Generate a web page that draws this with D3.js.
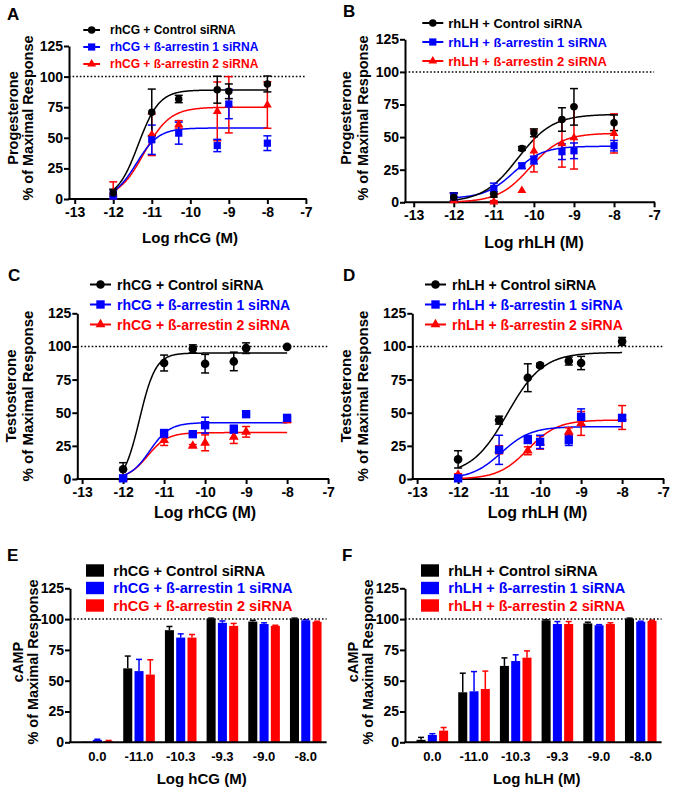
<!DOCTYPE html>
<html><head><meta charset="utf-8">
<script src="https://cdn.jsdelivr.net/npm/d3@7"></script>
<style>
body{margin:0;background:#fff}
svg text{font-family:"Liberation Sans",Arial,sans-serif;font-weight:bold}
</style>
</head><body>
<svg id="c" width="675" height="790"></svg>
<script>
// ---------- DATA ----------
const doseTicks = [-13, -12, -11, -10, -9, -8, -7];
const yTicks = [0, 25, 50, 75, 100, 125];
const colors = ["#000000", "#0000ff", "#ff0000"];
const hcgNames = ["rhCG + Control siRNA", "rhCG + ß-arrestin 1 siRNA", "rhCG + ß-arrestin 2 siRNA"];
const lhNames = ["rhLH + Control siRNA", "rhLH + ß-arrestin 1 siRNA", "rhLH + ß-arrestin 2 siRNA"];

// Panel A: progesterone, rhCG
const dosesA = [-12, -11, -10.3, -9.3, -9, -8];
const progCgCtrl = [5, 70.8, 81.7, 89.3, 88, 94];
const progCgCtrlErr = [3, 19, 3, 11, 6, 6.5];
const progCgArr1 = [3.3, 48.4, 53.8, 43.7, 77.6, 45.6];
const progCgArr1Err = [4, 12, 9, 5, 12, 6];
const progCgArr2 = [5, 52.5, 61, 71.6, 77, 76.8];
const progCgArr2Err = [9, 17, 3, 24, 23, 19];
// fit params: bottom, top, logEC50, hill
const progCgFit = [[0, 89, -11.35, 1.6], [0, 58, -11.4, 1.5], [0, 75, -11.2, 1.3]];

// Panel B: progesterone, rhLH
const dosesB = [-12, -11, -10.3, -10, -9.3, -9, -8];
const progLhCtrl = [3.8, 6, 41.3, 53.3, 63.5, 73.2, 61];
const progLhCtrlErr = [3, 2, 1.5, 3, 9, 14, 6];
const progLhArr1 = [4.3, 10.7, 28, 32.4, 38.8, 39.5, 43.4];
const progLhArr1Err = [3, 4, 2, 3, 6, 6, 4];
const progLhArr2 = [1.3, 0.3, 9, 39.3, 45, 49.5, 52.8];
const progLhArr2Err = [6, 1, 0, 16, 18, 24, 15];
const progLhFit = [[0, 67.5, -10.4, 1], [3, 43, -10.5, 1.2], [0, 53, -10.1, 1.1]];

// Panel C: testosterone, rhCG
const dosesC = [-12, -11, -10.3, -10, -9.3, -9, -8];
const testCgCtrl = [7.3, 87.5, 98.2, 87, 88.7, 98.7, 99.7];
const testCgCtrlErr = [5, 6, 3, 7, 7, 4, 1];
const testCgArr1 = [0.5, 34.3, 33.8, 40.6, 37.6, 48.9, 46.1];
const testCgArr1Err = [1, 3, 1, 6, 3, 1, 1];
const testCgArr2 = [0.5, 29.3, 25, 27.3, 31.8, 35.6, 44.5];
const testCgArr2Err = [1, 4, 1, 6, 5, 4, 2];
const testCgFit = [[-5, 95, -11.6, 2.2], [0, 42.5, -11.35, 1.8], [0, 35, -11.4, 1.8]];

// Panel D: testosterone, rhLH
const dosesD = [-12, -11, -10.3, -10, -9.3, -9, -8];
const testLhCtrl = [14.8, 44.4, 76.4, 85.7, 89, 87.5, 103.8];
const testLhCtrlErr = [6.5, 3, 10.5, 1.5, 3, 5, 3];
const testLhArr1 = [0.5, 22, 29.8, 28, 29.3, 46.9, 46.1];
const testLhArr1Err = [1, 11, 3, 5, 4, 6, 2];
const testLhArr2 = [3, 22, 21.3, 27.5, 35.6, 41.9, 46.4];
const testLhArr2Err = [1, 3, 3, 5, 3, 9, 9];
const testLhFit = [[3, 95.5, -10.8, 1], [0, 39.5, -10.95, 1.2], [0, 44.5, -10.3, 1.2]];

// Panels E/F: cAMP bars
const campCats = ["0.0", "-11.0", "-10.3", "-9.3", "-9.0", "-8.0"];
const campCgCtrl = [0.5, 60, 91, 100.3, 98, 100.3];
const campCgCtrlErr = [0, 10, 3, 0.5, 1, 0.5];
const campCgArr1 = [2, 57.8, 85, 97, 96, 99];
const campCgArr1Err = [0.5, 9.5, 3, 1.5, 1, 0.5];
const campCgArr2 = [1, 55, 85, 94.5, 94.5, 97.8];
const campCgArr2Err = [0.5, 12, 2.5, 2, 0.5, 0.5];
const campLhCtrl = [2, 40.6, 62, 99, 96.5, 100.3];
const campLhCtrlErr = [2, 15.5, 6.5, 0.5, 1, 0.5];
const campLhArr1 = [6, 41.4, 66, 96, 95, 97.8];
const campLhArr1Err = [1, 16, 5, 2, 0.5, 0.5];
const campLhArr2 = [9.5, 43.3, 68.7, 96, 96, 98.6];
const campLhArr2Err = [2.5, 14.5, 5.5, 2, 1, 0.5];

// ---------- DRAWING ----------
const FONT = '"Liberation Sans", Arial, sans-serif';
const svg = d3.select("#c");
svg.append("rect").attr("width", 675).attr("height", 790).attr("fill", "#fff");
const symbols = [d3.symbolCircle, d3.symbolSquare, d3.symbolTriangle];

function styleAxis(ga, fs) {
  ga.attr("font-family", FONT).attr("font-size", fs).attr("font-weight", "bold");
  ga.selectAll(".tick line").attr("stroke", "#000").attr("stroke-width", 2);
  ga.selectAll(".tick text").attr("fill", "#000");
}

function drawYAxis(g, y, ax) {
  const a = d3.axisLeft(y).tickValues(yTicks).tickSize(5).tickPadding(1).tickSizeOuter(0).tickFormat(d => String(d));
  const ga = g.append("g").attr("transform", `translate(${ax},0)`).call(a);
  ga.select(".domain").attr("stroke", "#000").attr("stroke-width", 2);
  styleAxis(ga, 14);
}

function titles(g, p) {
  g.append("text").attr("x", p.label[0]).attr("y", p.label[1]).attr("font-size", 17).text(p.labelText);
  g.append("text").attr("x", p.xTitle[0]).attr("y", p.xTitle[1]).attr("text-anchor", "middle")
    .attr("font-size", p.xTitleSize).text(p.xTitleText);
  p.yTitleText.forEach((t, i) => {
    g.append("text").attr("transform", `translate(${p.yTitleX[i]},${p.yTitleY}) rotate(-90)`)
      .attr("text-anchor", "middle").attr("dominant-baseline", "central")
      .attr("font-size", p.yTitleSize).text(t);
  });
}

function curvePanel(p) {
  const g = svg.append("g");
  const x = d3.scaleLinear().domain([-13, -7]).range(p.xr);
  const y = d3.scaleLinear().domain([0, 125]).range(p.yr);
  // dotted 100 % line
  g.append("line").attr("x1", p.ax).attr("x2", x(-7)).attr("y1", y(100)).attr("y2", y(100))
    .attr("stroke", "#000").attr("stroke-width", 1.5).attr("stroke-dasharray", "1.6,2");
  // x axis
  const xa = d3.axisBottom(x).tickValues(doseTicks).tickSize(5).tickPadding(3).tickSizeOuter(0).tickFormat(d => String(d));
  const gx = g.append("g").attr("transform", `translate(0,${y(0)})`).call(xa);
  gx.select(".domain").remove();
  styleAxis(gx, 14);
  g.append("line").attr("x1", p.ax - 1).attr("x2", x(-7) + 1).attr("y1", y(0)).attr("y2", y(0))
    .attr("stroke", "#000").attr("stroke-width", 2);
  drawYAxis(g, y, p.ax);

  const line = d3.line().x(d => x(d[0])).y(d => y(d[1]));
  const order = [2, 1, 0];
  // curves
  order.forEach(si => {
    const f = p.fits[si];
    const pts = d3.range(-12, -7.999, 0.02).map(v => [v, f[0] + (f[1] - f[0]) / (1 + Math.pow(10, (f[2] - v) * f[3]))]);
    g.append("path").attr("d", line(pts)).attr("fill", "none").attr("stroke", colors[si]).attr("stroke-width", 1.5);
  });
  // error bars + markers
  order.forEach(si => {
    const s = p.series[si];
    p.doses.forEach((d, i) => {
      const v = s.vals[i], e = s.errs[i];
      if (e > 0) {
        const lo = Math.max(0, v - e), hi = v + e;
        const cx = x(d), hw = 4;
        g.append("line").attr("x1", cx).attr("x2", cx).attr("y1", y(lo)).attr("y2", y(hi))
          .attr("stroke", colors[si]).attr("stroke-width", 1.5);
        [lo, hi].forEach(vv => g.append("line").attr("x1", cx - hw).attr("x2", cx + hw).attr("y1", y(vv)).attr("y2", y(vv))
          .attr("stroke", colors[si]).attr("stroke-width", 1.5));
      }
    });
  });
  order.forEach(si => {
    const s = p.series[si];
    p.doses.forEach((d, i) => {
      g.append("path").attr("d", d3.symbol().type(symbols[si]).size(p.msize[si])())
        .attr("transform", `translate(${x(d)},${y(s.vals[i])})`).attr("fill", colors[si]);
    });
  });
  // legend
  p.names.forEach((n, i) => {
    const ly = p.legRows[i];
    g.append("line").attr("x1", p.legLine[0]).attr("x2", p.legLine[1]).attr("y1", ly).attr("y2", ly)
      .attr("stroke", colors[i]).attr("stroke-width", 2);
    g.append("path").attr("d", d3.symbol().type(symbols[i]).size(p.msize[i])())
      .attr("transform", `translate(${(p.legLine[0] + p.legLine[1]) / 2},${ly})`).attr("fill", colors[i]);
    g.append("text").attr("x", p.legText).attr("y", ly).attr("dominant-baseline", "central")
      .attr("font-size", p.legSize).attr("fill", colors[i]).text(n);
  });
  titles(g, p);
}

function barPanel(p) {
  const g = svg.append("g");
  const x0 = d3.scaleBand().domain(p.cats).range(p.xr).paddingInner(0.242).paddingOuter(0.121);
  const x1 = d3.scaleBand().domain([0, 1, 2]).range([0, x0.bandwidth()]).paddingInner(0.2);
  const y = d3.scaleLinear().domain([0, 125]).range(p.yr);
  // bars
  p.series.forEach((s, si) => {
    p.cats.forEach((c, i) => {
      const bx = x0(c) + x1(si), bw = x1.bandwidth();
      g.append("rect").attr("x", bx).attr("width", bw).attr("y", y(s.vals[i])).attr("height", y(0) - y(s.vals[i]))
        .attr("fill", colors[si]);
      const e = s.errs[i];
      if (e > 0) {
        const cx = bx + bw / 2;
        g.append("line").attr("x1", cx).attr("x2", cx).attr("y1", y(s.vals[i])).attr("y2", y(s.vals[i] + e))
          .attr("stroke", colors[si]).attr("stroke-width", 1.5);
        g.append("line").attr("x1", cx - 3).attr("x2", cx + 3).attr("y1", y(s.vals[i] + e)).attr("y2", y(s.vals[i] + e))
          .attr("stroke", colors[si]).attr("stroke-width", 1.5);
      }
    });
  });
  g.append("line").attr("x1", p.ax).attr("x2", p.xr[1]).attr("y1", y(100)).attr("y2", y(100))
    .attr("stroke", "#000").attr("stroke-width", 1.5).attr("stroke-dasharray", "1.6,2");
  // x axis
  const xa = d3.axisBottom(x0).tickSize(0).tickPadding(9);
  const gx = g.append("g").attr("transform", `translate(0,${y(0)})`).call(xa);
  gx.select(".domain").remove();
  styleAxis(gx, 13);
  g.append("line").attr("x1", p.ax - 1).attr("x2", p.xr[1]).attr("y1", y(0)).attr("y2", y(0))
    .attr("stroke", "#000").attr("stroke-width", 2);
  drawYAxis(g, y, p.ax);
  // legend
  p.names.forEach((n, i) => {
    const ly = p.legRows[i];
    g.append("rect").attr("x", p.legSw[0]).attr("width", p.legSw[1] - p.legSw[0]).attr("y", ly - 6.2).attr("height", 12.4)
      .attr("fill", colors[i]);
    g.append("text").attr("x", p.legText).attr("y", ly).attr("dominant-baseline", "central")
      .attr("font-size", p.legSize).attr("fill", colors[i]).text(n);
  });
  titles(g, p);
}

const msSmall = [44, 52, 34];
const msBig = [58, 70, 42];

curvePanel({
  doses: dosesA, fits: progCgFit, names: hcgNames,
  series: [{vals: progCgCtrl, errs: progCgCtrlErr}, {vals: progCgArr1, errs: progCgArr1Err}, {vals: progCgArr2, errs: progCgArr2Err}],
  ax: 69, xr: [74.7, 305.9], yr: [199, 46], msize: msSmall,
  legLine: [83.3, 100], legText: 110, legRows: [30, 47, 64], legSize: 12,
  label: [7, 19.5], labelText: "A",
  xTitle: [190, 242.5], xTitleText: "Log rhCG (M)", xTitleSize: 15,
  yTitleText: ["Progesterone", "% of Maximal Response"], yTitleX: [12.5, 28], yTitleY: 118, yTitleSize: 14.5
});
curvePanel({
  doses: dosesB, fits: progLhFit, names: lhNames,
  series: [{vals: progLhCtrl, errs: progLhCtrlErr}, {vals: progLhArr1, errs: progLhArr1Err}, {vals: progLhArr2, errs: progLhArr2Err}],
  ax: 405, xr: [413.7, 654.1], yr: [202.3, 39.3], msize: msSmall,
  legLine: [422.3, 443.3], legText: 448.3, legRows: [23, 42, 61], legSize: 13,
  label: [343, 17.3], labelText: "B",
  xTitle: [534, 248], xTitleText: "Log rhLH (M)", xTitleSize: 16,
  yTitleText: ["Progesterone", "% of Maximal Response"], yTitleX: [345.5, 363], yTitleY: 118, yTitleSize: 14.5
});
curvePanel({
  doses: dosesC, fits: testCgFit, names: hcgNames,
  series: [{vals: testCgCtrl, errs: testCgCtrlErr}, {vals: testCgArr1, errs: testCgArr1Err}, {vals: testCgArr2, errs: testCgArr2Err}],
  ax: 77.3, xr: [82.1, 328.1], yr: [479, 313.3], msize: msBig,
  legLine: [90, 111], legText: 117, legRows: [284.5, 304.5, 324.5], legSize: 14,
  label: [8, 280.7], labelText: "C",
  xTitle: [205, 518], xTitleText: "Log rhCG (M)", xTitleSize: 16,
  yTitleText: ["Testosterone", "% of Maximal Response"], yTitleX: [10, 27], yTitleY: 396, yTitleSize: 15
});
curvePanel({
  doses: dosesD, fits: testLhFit, names: lhNames,
  series: [{vals: testLhCtrl, errs: testLhCtrlErr}, {vals: testLhArr1, errs: testLhArr1Err}, {vals: testLhArr2, errs: testLhArr2Err}],
  ax: 412.3, xr: [417.1, 663.1], yr: [479, 313.3], msize: msBig,
  legLine: [425, 446], legText: 452, legRows: [284.5, 304.5, 324.5], legSize: 14,
  label: [343, 280.7], labelText: "D",
  xTitle: [537.5, 518], xTitleText: "Log rhLH (M)", xTitleSize: 16,
  yTitleText: ["Testosterone", "% of Maximal Response"], yTitleX: [345, 362], yTitleY: 396, yTitleSize: 15
});
barPanel({
  cats: campCats, names: hcgNames,
  series: [{vals: campCgCtrl, errs: campCgCtrlErr}, {vals: campCgArr1, errs: campCgArr1Err}, {vals: campCgArr2, errs: campCgArr2Err}],
  ax: 70, xr: [76.5, 326.6], yr: [742.3, 588.3],
  legSw: [86, 104], legText: 113.3, legRows: [570.5, 588, 605.5], legSize: 14.5,
  label: [7, 561], labelText: "E",
  xTitle: [201.7, 784], xTitleText: "Log hCG (M)", xTitleSize: 15,
  yTitleText: ["cAMP", "% of Maximal Response"], yTitleX: [18.3, 32.5], yTitleY: 662, yTitleSize: 14.5
});
barPanel({
  cats: campCats, names: lhNames,
  series: [{vals: campLhCtrl, errs: campLhCtrlErr}, {vals: campLhArr1, errs: campLhArr1Err}, {vals: campLhArr2, errs: campLhArr2Err}],
  ax: 405, xr: [411.5, 661.6], yr: [742.3, 588.3],
  legSw: [421, 439], legText: 448.3, legRows: [570.5, 588, 605.5], legSize: 14.5,
  label: [342, 561], labelText: "F",
  xTitle: [536.7, 784], xTitleText: "Log hLH (M)", xTitleSize: 15,
  yTitleText: ["cAMP", "% of Maximal Response"], yTitleX: [353.3, 367.5], yTitleY: 662, yTitleSize: 14.5
});
</script>
</body></html>
